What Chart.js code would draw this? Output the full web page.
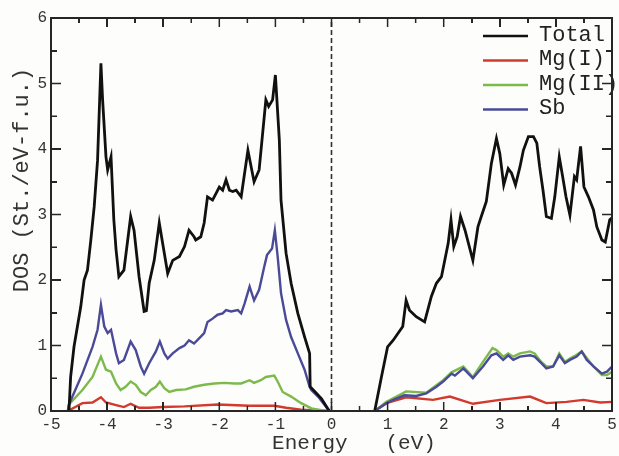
<!DOCTYPE html>
<html>
<head>
<meta charset="utf-8">
<script src="https://cdn.jsdelivr.net/npm/chart.js@4"></script>
<style>
  html, body { margin: 0; padding: 0; background: #fdfdfb; }
  #wrap { position: relative; width: 619px; height: 456px; }
  #wrap canvas { position: absolute; left: 0; top: 0; }
  #frame { position: absolute; box-sizing: border-box; border: 2px solid #262626; pointer-events: none; }
  .tick { position: absolute; background: #262626; pointer-events: none; }
</style>
</head>
<body>
<div id="wrap">
  <canvas id="dosChart" width="619" height="456"></canvas>
  <div id="frame"></div>
</div>
<script>
// energy (eV) and DOS (St./eV-f.u.); null splits valence / conduction parts
const energyTotal = [-4.68, -4.65, -4.59, -4.47, -4.41, -4.35, -4.29, -4.23, -4.17, -4.11, -4.08, -4.02, -3.99, -3.93,
  -3.88, -3.84, -3.79, -3.70, -3.58, -3.52, -3.43, -3.34, -3.30, -3.25, -3.16, -3.07, -3.01, -2.92, -2.83, -2.71,
  -2.62, -2.54, -2.45, -2.42, -2.33, -2.27, -2.21, -2.12, -2.06, -2.00, -1.94, -1.88, -1.82, -1.76, -1.70, -1.61,
  -1.49, -1.38, -1.29, -1.17, -1.12, -1.05, -1.00, -0.93, -0.90, -0.81, -0.72, -0.60, -0.48, -0.39, -0.38, -0.27,
  -0.18, -0.04, null,
  0.77, 0.89, 1.00, 1.10, 1.27, 1.33, 1.39, 1.51, 1.66, 1.78, 1.87, 1.96, 2.08, 2.13, 2.18, 2.24, 2.30, 2.38, 2.52,
  2.61, 2.67, 2.76, 2.85, 2.94, 3.00, 3.07, 3.15, 3.21, 3.28, 3.36, 3.42, 3.51, 3.60, 3.66, 3.71, 3.77, 3.83, 3.92,
  3.98, 4.06, 4.12, 4.18, 4.25, 4.33, 4.37, 4.44, 4.50, 4.58, 4.67, 4.73, 4.82, 4.88, 4.96, 5.00];
const dosTotal = [0, 0.52, 0.98, 1.59, 2.00, 2.15, 2.61, 3.12, 3.83, 5.31, 4.75, 3.88, 3.68, 3.88,
  2.92, 2.46, 2.05, 2.15, 2.97, 2.76, 2.05, 1.52, 1.53, 1.95, 2.30, 2.87, 2.56, 2.10, 2.30, 2.36,
  2.51, 2.76, 2.66, 2.61, 2.66, 2.87, 3.27, 3.22, 3.32, 3.42, 3.37, 3.53, 3.37, 3.35, 3.37, 3.27,
  3.98, 3.50, 3.68, 4.75, 4.65, 4.75, 5.13, 4.14, 3.22, 2.41, 1.95, 1.49, 1.13, 0.88, 0.37, 0.27,
  0.19, 0, null,
  0, 0.52, 0.98, 1.08, 1.29, 1.69, 1.54, 1.44, 1.36, 1.75, 1.95, 2.05, 2.56, 2.92, 2.51, 2.66, 2.97, 2.76, 2.30,
  2.81, 2.97, 3.20, 3.78, 4.16, 3.93, 3.45, 3.70, 3.63, 3.45, 3.73, 3.98, 4.19, 4.19, 4.09, 3.73, 3.37, 2.97, 2.94,
  3.27, 3.88, 3.58, 3.27, 2.99, 3.58, 3.53, 4.04, 3.42, 3.27, 3.07, 2.81, 2.61, 2.58, 2.92, 2.95];

const energySb = [-4.70, -4.68, -4.44, -4.26, -4.17, -4.11, -4.05, -3.99, -3.93, -3.84, -3.79, -3.70, -3.58, -3.49,
  -3.40, -3.34, -3.25, -3.13, -3.06, -2.98, -2.92, -2.83, -2.71, -2.62, -2.54, -2.45, -2.36, -2.27, -2.21, -2.12,
  -2.03, -1.94, -1.88, -1.79, -1.67, -1.61, -1.55, -1.46, -1.38, -1.29, -1.20, -1.15, -1.06, -1.01, -0.96, -0.90,
  -0.81, -0.72, -0.60, -0.48, -0.39, -0.36, -0.24, -0.04, null,
  0.77, 0.98, 1.10, 1.30, 1.51, 1.69, 1.87, 1.99, 2.14, 2.20, 2.35, 2.52, 2.70, 2.85, 2.94, 3.06, 3.15, 3.24, 3.36,
  3.54, 3.62, 3.74, 3.83, 3.95, 4.06, 4.16, 4.25, 4.37, 4.46, 4.55, 4.67, 4.82, 4.91, 5.00];
const dosSb = [0, 0.10, 0.57, 0.98, 1.24, 1.62, 1.29, 1.19, 1.24, 0.88, 0.73, 0.78, 1.06, 0.93,
  0.68, 0.57, 0.73, 0.91, 1.06, 0.88, 0.80, 0.88, 0.96, 1.00, 1.08, 1.03, 1.11, 1.19, 1.36, 1.41,
  1.47, 1.49, 1.54, 1.52, 1.54, 1.49, 1.64, 1.90, 1.69, 1.85, 2.20, 2.38, 2.48, 2.76, 2.36, 1.80,
  1.39, 1.13, 0.88, 0.63, 0.37, 0.32, 0.22, 0, null,
  0, 0.12, 0.17, 0.24, 0.23, 0.27, 0.37, 0.45, 0.57, 0.54, 0.65, 0.50, 0.68, 0.85, 0.88, 0.78, 0.85, 0.78, 0.83,
  0.85, 0.83, 0.73, 0.65, 0.68, 0.85, 0.73, 0.78, 0.83, 0.91, 0.78, 0.68, 0.57, 0.60, 0.68];

const energyMg2 = [-4.70, -4.68, -4.44, -4.26, -4.11, -4.02, -3.93, -3.84, -3.76, -3.67, -3.58, -3.49, -3.40, -3.31,
  -3.22, -3.13, -3.06, -2.98, -2.89, -2.77, -2.60, -2.45, -2.27, -2.09, -1.91, -1.73, -1.61, -1.46, -1.38, -1.26,
  -1.17, -1.02, -0.96, -0.87, -0.72, -0.54, -0.36, -0.10, null,
  0.77, 0.98, 1.33, 1.69, 1.99, 2.14, 2.35, 2.52, 2.70, 2.87, 2.94, 3.06, 3.15, 3.24, 3.36, 3.54, 3.62, 3.74, 3.83,
  3.95, 4.06, 4.16, 4.25, 4.37, 4.46, 4.55, 4.67, 4.82, 4.91, 5.00];
const dosMg2 = [0, 0.10, 0.32, 0.52, 0.83, 0.63, 0.60, 0.42, 0.32, 0.37, 0.45, 0.40, 0.29, 0.24,
  0.32, 0.37, 0.45, 0.35, 0.29, 0.32, 0.33, 0.37, 0.40, 0.42, 0.43, 0.42, 0.42, 0.47, 0.43, 0.47,
  0.52, 0.54, 0.45, 0.29, 0.22, 0.12, 0.04, 0, null,
  0, 0.14, 0.30, 0.28, 0.47, 0.59, 0.68, 0.52, 0.75, 0.96, 0.93, 0.83, 0.88, 0.83, 0.88, 0.91, 0.88, 0.75, 0.68,
  0.68, 0.88, 0.75, 0.80, 0.86, 0.91, 0.81, 0.68, 0.55, 0.55, 0.60];

const energyMg1 = [-4.70, -4.44, -4.26, -4.11, -4.02, -3.84, -3.70, -3.58, -3.43, -3.25, -3.00, -2.62, -2.03, -1.46,
  -1.02, -0.81, -0.54, -0.04, null,
  0.77, 0.98, 1.33, 1.81, 2.11, 2.52, 3.00, 3.54, 3.83, 4.19, 4.49, 4.79, 5.00];
const dosMg1 = [0, 0.12, 0.13, 0.21, 0.13, 0.09, 0.06, 0.11, 0.05, 0.05, 0.06, 0.07, 0.10, 0.08,
  0.08, 0.05, 0.02, 0, null,
  0, 0.12, 0.21, 0.17, 0.22, 0.11, 0.17, 0.22, 0.12, 0.14, 0.17, 0.13, 0.14];

const fermiLevel = 0;
const energyRange = [-5, 5];
const dosRange = [0, 6];

const seriesNames = ['Total', 'Mg(I)', 'Mg(II)', 'Sb'];
const seriesColors = ['#111111', '#d23a2e', '#7cba4c', '#4a4a98'];

const mono = '"Liberation Mono", "DejaVu Sans Mono", monospace';
const frameColor = '#262626';

function points(e, d) {
  return e.map((v, i) => ({ x: v, y: d[i] }));
}

// one dataset per continuous part (valence band, conduction band)
function lines(label, e, d, color, width) {
  const parts = [[]];
  e.forEach((v, i) => {
    if (v === null) parts.push([]);
    else parts[parts.length - 1].push({ x: v, y: d[i] });
  });
  return parts.map(p => ({
    label,
    data: p,
    borderColor: color,
    borderWidth: width,
    pointRadius: 0,
    tension: 0,
    fill: false
  }));
}

// tick positions every 0.5 along both axes, in pixels
function tickMarks(chart) {
  const sx = chart.scales.x, sy = chart.scales.y;
  const marks = [];
  for (let k = 0; k <= (energyRange[1] - energyRange[0]) * 2; k++) {
    marks.push({ axis: 'x', pos: sx.getPixelForValue(energyRange[0] + k * 0.5), len: k % 2 === 0 ? 9 : 5 });
  }
  for (let k = 0; k <= (dosRange[1] - dosRange[0]) * 2; k++) {
    marks.push({ axis: 'y', pos: sy.getPixelForValue(dosRange[0] + k * 0.5), len: k % 2 === 0 ? 10 : 6 });
  }
  return marks;
}

// frame, inward ticks, legend inside the plot and the two axis titles
const decorPlugin = {
  id: 'decor',
  afterDraw(chart) {
    const ctx = chart.ctx;
    const a = chart.chartArea;
    ctx.save();
    ctx.setLineDash([]);
    ctx.globalAlpha = 1;
    ctx.globalCompositeOperation = 'source-over';

    ctx.strokeStyle = frameColor;
    ctx.lineWidth = 2;
    ctx.strokeRect(a.left, a.top, a.right - a.left, a.bottom - a.top);

    ctx.lineWidth = 1.5;
    ctx.beginPath();
    tickMarks(chart).forEach(m => {
      if (m.axis === 'x') {
        ctx.moveTo(m.pos, a.bottom); ctx.lineTo(m.pos, a.bottom - m.len);
        ctx.moveTo(m.pos, a.top); ctx.lineTo(m.pos, a.top + m.len);
      } else {
        ctx.moveTo(a.left, m.pos); ctx.lineTo(a.left + m.len, m.pos);
        ctx.moveTo(a.right, m.pos); ctx.lineTo(a.right - m.len, m.pos);
      }
    });
    ctx.stroke();

    ctx.font = '22px ' + mono;
    ctx.textBaseline = 'middle';
    ctx.textAlign = 'left';
    for (let i = 0; i < seriesNames.length; i++) {
      const yy = 35 + i * 24.5;
      ctx.strokeStyle = seriesColors[i];
      ctx.lineWidth = 2.5;
      ctx.beginPath();
      ctx.moveTo(483, yy + 1);
      ctx.lineTo(528, yy + 1);
      ctx.stroke();
      ctx.fillStyle = '#222222';
      ctx.fillText(seriesNames[i], 539, yy);
    }

    ctx.fillStyle = '#333333';
    ctx.font = '21px ' + mono;
    ctx.textAlign = 'center';
    ctx.fillText('Energy   (eV)', 354, 443);

    ctx.translate(22, 180);
    ctx.rotate(-Math.PI / 2);
    ctx.font = '22px ' + mono;
    ctx.fillText('DOS (St./eV-f.u.)', 0, 0);

    ctx.restore();
  }
};

const data = {
  datasets: [
    ...lines('Total', energyTotal, dosTotal, seriesColors[0], 2.8),
    ...lines('Sb', energySb, dosSb, seriesColors[3], 2.4),
    ...lines('Mg(II)', energyMg2, dosMg2, seriesColors[2], 2.4),
    ...lines('Mg(I)', energyMg1, dosMg1, seriesColors[1], 2.4),
    {
      label: 'EF',
      data: points([fermiLevel, fermiLevel], dosRange),
      borderColor: '#333333',
      borderWidth: 1.6,
      borderDash: [5, 3],
      pointRadius: 0
    }
  ]
};

const config = {
  type: 'line',
  data,
  options: {
    responsive: false,
    animation: false,
    layout: { padding: { top: 18, right: 7, left: 0, bottom: 0 } },
    scales: {
      x: {
        type: 'linear',
        min: energyRange[0],
        max: energyRange[1],
        grid: { display: false, drawTicks: false },
        border: { display: false },
        ticks: { stepSize: 1, padding: 4, color: '#333', maxRotation: 0, font: { family: mono, size: 16 } },
        afterFit: s => { s.height = 45; s.paddingLeft = 0; s.paddingRight = 0; }
      },
      y: {
        min: dosRange[0],
        max: dosRange[1],
        grid: { display: false, drawTicks: false },
        border: { display: false },
        ticks: { stepSize: 1, padding: 4, color: '#333', font: { family: mono, size: 16 } },
        afterFit: s => { s.width = 51; }
      }
    },
    plugins: {
      legend: { display: false },
      tooltip: { enabled: false }
    }
  },
  plugins: [decorPlugin]
};

const chart = new Chart(document.getElementById('dosChart'), config);

// the same frame and ticks as page elements over the canvas, placed from the chart's own area and scales
const area = chart.chartArea;
const frame = document.getElementById('frame');
frame.style.left = (area.left - 1) + 'px';
frame.style.top = (area.top - 1) + 'px';
frame.style.width = (area.right - area.left + 2) + 'px';
frame.style.height = (area.bottom - area.top + 2) + 'px';

const wrap = document.getElementById('wrap');
function addTick(left, top, w, h) {
  const t = document.createElement('div');
  t.className = 'tick';
  t.style.left = left + 'px';
  t.style.top = top + 'px';
  t.style.width = w + 'px';
  t.style.height = h + 'px';
  wrap.appendChild(t);
}
tickMarks(chart).forEach(m => {
  if (m.axis === 'x') {
    addTick(m.pos - 0.75, area.bottom - m.len, 1.5, m.len);
    addTick(m.pos - 0.75, area.top, 1.5, m.len);
  } else {
    addTick(area.left, m.pos - 0.75, m.len, 1.5);
    addTick(area.right - m.len, m.pos - 0.75, m.len, 1.5);
  }
});
</script>
</body>
</html>
